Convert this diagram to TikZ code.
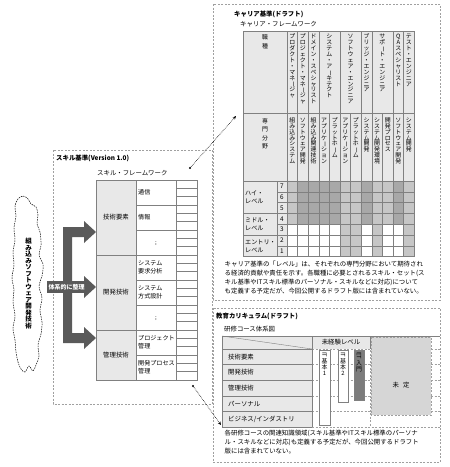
\documentclass[tikz,border=0pt]{standalone}
\usepackage{fontspec}
\setmainfont{Noto Sans CJK JP}
\usepackage{graphicx}
\usetikzlibrary{arrows.meta}
\definecolor{hdr}{HTML}{E8E8E8}
\definecolor{dk}{HTML}{A8A8A8}
\definecolor{lt}{HTML}{C6C6C6}
\definecolor{ln}{HTML}{808080}
\definecolor{arr}{HTML}{5A5A5A}
\definecolor{frm}{HTML}{A0A0A0}
\definecolor{undec}{HTML}{D6D6D6}
\definecolor{etc}{HTML}{7C7C7C}
\newcommand\fs{\fontsize{6.4}{9.1}\selectfont}
\newcommand\fsl{\fontsize{6.1}{8}\selectfont}
\newcommand\fsv{\fontsize{5.9}{5.9}\selectfont}
\let\vtend\relax
\def\vtendmark{\vtend}
\def\vtdash{ー}
\def\vtloop#1{\def\vttmp{#1}\ifx\vttmp\vtendmark\else\vtone{#1}\expandafter\vtloop\fi}
\def\vtone#1{\hbox to 1em{\hss\vrule height .88em depth .12em width 0pt\smash{\ifx\vttmp\vtdash\rotatebox[origin=c]{-90}{ー}\else #1\fi}\hss}}
\newcommand\vtext[1]{\vbox{\offinterlineskip\expandafter\vtloop#1\vtend}}
\newcommand\vtc[1]{\def\vttmp{#1}\vtone{#1}}
\tikzset{
  frame/.style={draw=frm, line width=0.5pt, dash pattern=on 2pt off 1.5pt},
  gl/.style={draw=ln, line width=0.4pt},
  dl/.style={draw=frm, line width=0.4pt, dash pattern=on 2pt off 1.5pt},
  txt/.style={inner sep=0pt, font=\fs},
  ttl/.style={inner sep=0pt, anchor=west, font=\fs\bfseries},
  sub/.style={inner sep=0pt, anchor=west, font=\fs},
  vt/.style={inner sep=0pt, anchor=north, font=\fsv},
  lbl/.style={inner sep=0pt, anchor=west, align=left, font=\fsl},
  conn/.style={densely dotted, line width=0.6pt, -{Stealth[length=3.5pt,width=3pt]}},
  cloudline/.style={draw=black, line width=0.5pt, dash pattern=on 1.5pt off 1pt},
}
\begin{document}
\begin{tikzpicture}[x=1pt,y=-1pt]
\useasboundingbox (0,0) rectangle (450,467);
\fill[white] (0,0) rectangle (450,467);

% ---------- frames
\draw[frame] (213,4) rectangle (440,300);
\draw[frame] (53,150) rectangle (212,404);
\draw[frame] (213,308) rectangle (440,462);

% ---------- cloud
\draw[cloudline] plot[smooth cycle, tension=0.6] coordinates {
 (18,199) (23,196) (28,199) (31,204) (36,207) (38,215) (37,224) (40,232) (41,245) (39,255)
 (43,264) (42,276) (39,286) (42,298) (40,310) (42,322) (41,334) (38,345) (39,356) (36,365)
 (33,371) (29,366) (25,372) (21,369) (18,362) (16,352) (15,340) (13,328) (15,316) (13,302)
 (14,290) (12,278) (14,265) (13,252) (15,240) (14,228) (16,216) (15,206)};
\node[vt, font=\fontsize{6.5}{6.5}\selectfont\bfseries] (cloudtxt) at (28.5,238) {\vtext{組み込みソフトウェア開発技術}};

% ---------- bracket arrow
\fill[arr] (63,227) -- (84,227) -- (84,221) -- (96,232) -- (84,243) -- (84,237) -- (72,237)
  -- (72,282) -- (84,282) -- (84,276) -- (96,287) -- (84,298) -- (84,292) -- (72,292)
  -- (72,333) -- (84,333) -- (84,327) -- (96,338) -- (84,349) -- (84,343) -- (63,343) -- cycle;
\node[fill=arr, text=white, font=\fontsize{6}{6}\selectfont\bfseries, inner xsep=1.5pt, inner ysep=0pt, minimum height=12pt, anchor=west] (organize) at (47,287) {体系的に整理};

% ---------- skill standard
\node[ttl] (skilltitle) at (56,158) {スキル基準(Version 1.0)};
\node[sub] (skillfw) at (97,173) {スキル・フレームワーク};
\fill[hdr] (96,180) rectangle (136,380);
\foreach \i in {1,...,23} \draw[gl] (176,{180+\i*200/24}) -- (197,{180+\i*200/24});
\foreach \y in {205,230,280,305,355} \draw[gl] (136,\y) -- (176,\y);
\foreach \y in {255,330} \draw[gl] (96,\y) -- (197,\y);
\draw[gl] (136,180) -- (136,380);
\draw[gl] (176,180) -- (176,380);
\draw[gl] (96,180) rectangle (197,380);
\node[txt] (g1) at (116,217.5) {技術要素};
\node[txt] (g2) at (116,292.5) {開発技術};
\node[txt] (g3) at (116,355) {管理技術};
\node[lbl] (s1) at (138,192.5) {通信};
\node[lbl] (s2) at (138,217.5) {情報};
\node[txt] (s3) at (156,242.5) {\vbox{\offinterlineskip\hbox{.}\vskip-2.6pt\hbox{.}\vskip-2.6pt\hbox{.}}};
\node[lbl] (s4) at (138,267.5) {システム\\要求分析};
\node[lbl] (s5) at (138,292.5) {システム\\方式設計};
\node[txt] (s6) at (156,317.5) {\vbox{\offinterlineskip\hbox{.}\vskip-2.6pt\hbox{.}\vskip-2.6pt\hbox{.}}};
\node[lbl] (s7) at (138,342.5) {プロジェクト\\管理};
\node[lbl] (s8) at (138,367.5) {開発プロセス\\管理};

% ---------- career standard
\node[ttl] (cartitle) at (234,14) {キャリア基準(ドラフト)};
\node[sub] (carfw) at (240,24) {キャリア・フレームワーク};
\fill[hdr] (243,31) rectangle (414.2,181);
\fill[hdr] (243,181) rectangle (287,256.6);
\foreach \c/\s in {1/lt,2/dk,3/dk,4/dk,5/dk,6/lt,7/lt,8/dk,9/lt,10/lt,11/dk,12/lt}
  \fill[fill=\s] ({287+(\c-1)*10.6},181) rectangle ({287+\c*10.6},{181+4*10.8});
\foreach \c in {6,7,9,12}
  \fill[fill=lt] ({287+(\c-1)*10.6},{181+4*10.8}) rectangle ({287+\c*10.6},256.6);
\draw[gl] (243,31) rectangle (414.2,256.6);
\draw[gl] (243,113) -- (414.2,113);
\draw[gl] (243,181) -- (414.2,181);
\draw[gl] (287,31) -- (287,256.6);
\foreach \x in {297.6,308.2,318.8,340,361.2,371.8,393,403.6} \draw[gl] (\x,31) -- (\x,256.6);
\foreach \x in {329.4,350.6,382.4} \draw[gl] (\x,113) -- (\x,256.6);
\draw[gl] (277,181) -- (277,256.6);
\foreach \k in {1,2,4,6} \draw[gl] (277,{181+10.8*\k}) -- (414.2,{181+10.8*\k});
\foreach \k in {3,5} \draw[gl] (243,{181+10.8*\k}) -- (414.2,{181+10.8*\k});
\node[vt] (jobhead) at (265,34) {\vbox{\offinterlineskip\vtc{職}\vskip3pt\vtc{種}}};
\node[vt] (spechead) at (265,118) {\vbox{\offinterlineskip\vtc{専}\vskip2.5pt\vtc{門}\vskip2.5pt\vtc{分}\vskip2.5pt\vtc{野}}};
\foreach \x/\t [count=\i] in {292.3/プロダクト・マネージャ,302.9/プロジェクト・マネージャ,313.5/ドメイン・スペシャリスト,329.4/システム・アーキテクト,350.6/ソフトウェア・エンジニア,366.5/ブリッジ・エンジニア,382.4/サポート・エンジニア,398.3/QAスペシャリスト,408.9/テスト・エンジニア}
  \node[vt] (job\i) at (\x,33.5) {\vtext{\t}};
\foreach \t [count=\i] in {組み込みシステム,ソフトウェア開発,組み込み関連技術,アプリケーション,プラットホーム,アプリケーション,プラットホーム,システム開発,システム開発環境,開発プロセス,ソフトウェア開発,システム開発}
  \node[vt] (spec\i) at ({287+(\i-0.5)*10.6},117) {\vtext{\t}};
\node[lbl] (high) at (245,197.2) {ハイ・\\レベル};
\node[lbl] (mid) at (245,224.2) {ミドル・\\レベル};
\node[lbl] (entry) at (245,245.8) {エントリ・\\レベル};
\foreach \n [count=\k] in {7,6,5,4,3,2,1}
  \node[txt] (lv\n) at (282,{181+10.8*(\k-0.5)}) {\n};
\node[txt, anchor=north west, align=left] (carnote) at (224.5,261) {キャリア基準の「レベル」は、それぞれの専門分野において期待され\\る経済的貢献や責任を示す。各職種に必要とされるスキル・セット(ス\\キル基準やITスキル標準のパーソナル・スキルなどに対応)について\\も定義する予定だが、今回公開するドラフト版には含まれていない。};

% ---------- education curriculum
\node[ttl] (edutitle) at (216,316) {教育カリキュラム(ドラフト)};
\node[sub] (edusub) at (224,329) {研修コース体系図};
\fill[hdr] (222,336) rectangle (312,427);
\fill[hdr] (312,336) rectangle (370,349);
\foreach \y in {364.6,380.2,395.8,411.4,427} \draw[dl] (312,\y) -- (440,\y);
\draw[dl] (370,336) -- (370,427);
\draw[dl] (312,349) -- (440,349);
\foreach \y in {349,364.6,380.2,395.8,411.4} \draw[gl] (222,\y) -- (312,\y);
\draw[gl] (222,336) -- (440,336);
\draw[gl] (222,336) -- (222,427) -- (312,427);
\draw[gl] (312,336) -- (312,427);
\draw[gl] (370,336) -- (370,349);
\draw[gl] (222,336) -- (312,349);
\node[txt] (unexp) at (341,342.5) {未経験レベル};
\node[lbl, font=\fs] (e1) at (228,356.8) {技術要素};
\node[lbl, font=\fs] (e2) at (228,372.4) {開発技術};
\node[lbl, font=\fs] (e3) at (228,388) {管理技術};
\node[lbl, font=\fs] (e4) at (228,403.6) {パーソナル};
\node[lbl, font=\fs] (e5) at (228,419.2) {ビジネス/インダストリ};
\draw[fill=undec, draw=frm, line width=0.5pt, dash pattern=on 2pt off 1.5pt] (371,337) rectangle (431,415);
\node[txt] (undecided) at (401,385) {未\hspace{4pt}定};
\draw[fill=white, gl] (319,350) rectangle (330,425);
\draw[fill=white, gl] (338,350) rectangle (348,402);
\draw[fill=etc, gl] (354,350) rectangle (364,400);
\node[vt] (it1) at (324.5,352) {\vbox{\offinterlineskip\hbox to 1em{\hss\rotatebox{-90}{IT}\hss}\vskip1pt\vtloop 基本1\vtend}};
\node[vt] (it2) at (343,352) {\vbox{\offinterlineskip\hbox to 1em{\hss\rotatebox{-90}{IT}\hss}\vskip1pt\vtloop 基本2\vtend}};
\node[vt] (et) at (359,352) {\vbox{\offinterlineskip\hbox to 1em{\hss\rotatebox{-90}{ET}\hss}\vskip1pt\vtloop 入門\vtend}};
\node[txt, anchor=north west, align=left] (edunote) at (224.5,430) {各研修コースの関連知識領域(スキル基準やITスキル標準のパーソナ\\ル・スキルなどに対応)も定義する予定だが、今回公開するドラフト\\版には含まれていない。};

% ---------- connectors
\coordinate (d1) at (190,168);
\coordinate (a1) at (236,116);
\coordinate (d2) at (193,386);
\coordinate (a2) at (221,425);
\fill (d1) circle (1.1pt);
\fill (d2) circle (1.1pt);
\draw[conn] (d1) -- (a1);
\draw[conn] (d2) -- (a2);
\end{tikzpicture}
\end{document}
